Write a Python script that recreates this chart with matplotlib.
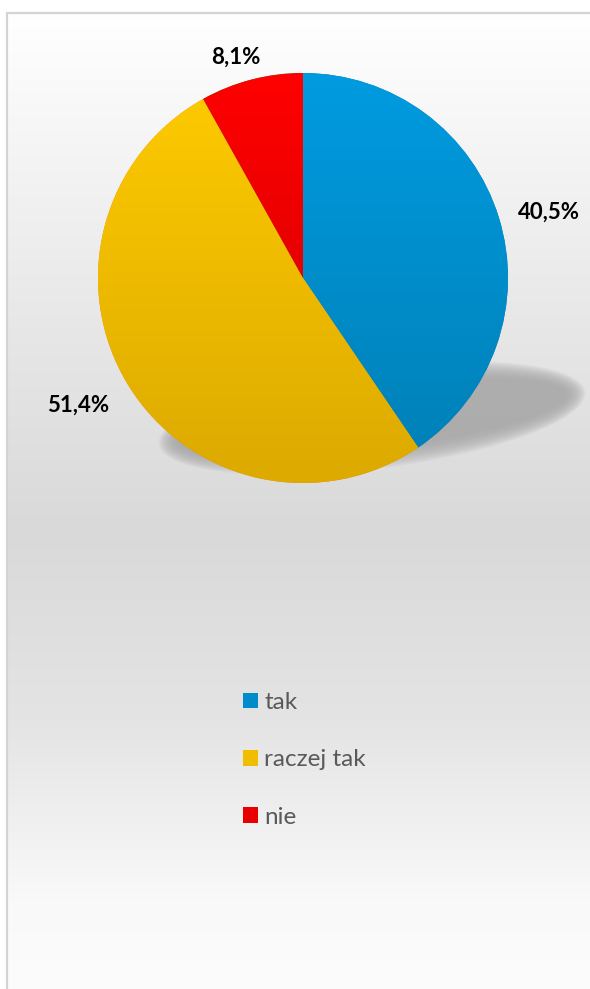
import numpy as np
import matplotlib
matplotlib.use("Agg")
import matplotlib.pyplot as plt
from matplotlib.patches import Rectangle, Ellipse, Patch
from matplotlib.colors import LinearSegmentedColormap, to_rgb

categories = ["tak", "raczej tak", "nie"]
values = [40.5, 51.4, 8.1]
value_labels = ["40,5%", "51,4%", "8,1%"]

top_colors = ["#009be0", "#ffcb00", "#ff0000"]
bottom_colors = ["#007fb5", "#dcaa00", "#cc0000"]
legend_colors = ["#008ccb", "#f0bd00", "#e80000"]
label_dist = [1.24, 1.26, 1.127]
label_rot = [-2.1, -2.1, 2.4]

plt.rcParams['font.family'] = ['Lato', 'DejaVu Sans']

W, H = 590, 989
fig = plt.figure(figsize=(W / 100, H / 100), dpi=100)
ax = fig.add_axes([0, 0, 1, 1])
ax.set_xlim(0, W)
ax.set_ylim(0, H)
ax.axis('off')

# background gradient panel
fx0, fy_top = 7, H - 13
stops = [(13, "#ffffff"), (300, "#e9e9e9"), (530, "#d9d9d9"), (720, "#e4e4e4"),
         (900, "#f9f9f9"), (989, "#fcfcfc")]
ys = np.arange(0, H)
cols = np.zeros((H, 3))
sy = [s[0] for s in stops]
sc = np.array([to_rgb(s[1]) for s in stops])
for k in range(3):
    cols[:, k] = np.interp(ys, sy, sc[:, k])
img = cols[:, None, :]
ax.imshow(img, extent=(fx0, W + 5, 0, H), origin='upper', aspect='auto', zorder=0)
ax.add_patch(Rectangle((fx0, -5), W + 10, fy_top + 5, fill=False,
                       edgecolor="#d4d4d4", linewidth=1.6, zorder=1))

cx, cy, r = 303, H - 278, 205

# shadow (blurred ellipse)
n = 20
for i in range(n):
    f = 1 - i / (n - 1)
    ax.add_patch(Ellipse((372, H - 418), 390 + 40 * f, 62 + 40 * f, angle=7,
                         facecolor="#a8a8a8", edgecolor='none', alpha=0.09,
                         zorder=2))

wedges, _ = ax.pie(values, startangle=90, counterclock=False, radius=r,
                   center=(cx, cy), frame=True,
                   wedgeprops=dict(edgecolor='none', linewidth=0))
ax.set_xlim(0, W)
ax.set_ylim(0, H)
ax.set_aspect('equal')
ax.axis('off')

grad = np.linspace(0, 1, 256)[:, None]
for w, tc, bc in zip(wedges, top_colors, bottom_colors):
    w.set_zorder(3)
    cmap = LinearSegmentedColormap.from_list("g", [tc, bc])
    im = ax.imshow(grad, cmap=cmap, extent=(cx - r, cx + r, cy - r, cy + r),
                   origin='upper', aspect='auto', zorder=4)
    im.set_clip_path(w)

for w, lab, d, rot in zip(wedges, value_labels, label_dist, label_rot):
    th = np.deg2rad((w.theta1 + w.theta2) / 2 + rot)
    ax.text(cx + d * r * np.cos(th), cy + d * r * np.sin(th), lab,
            ha='center', va='center', fontsize=16, fontweight='bold',
            color='black', zorder=6)

handles = [Patch(facecolor=c, edgecolor='none') for c in legend_colors]
leg = ax.legend(handles, categories, loc='upper left',
                bbox_to_anchor=(243 / W, 1 - 692 / H), frameon=False,
                fontsize=17.5, labelspacing=1.5, handlelength=0.62,
                handleheight=0.62, handletextpad=0.25, borderpad=0,
                borderaxespad=0)
for t in leg.get_texts():
    t.set_color("#595959")

fig.savefig("out.png", dpi=100)
